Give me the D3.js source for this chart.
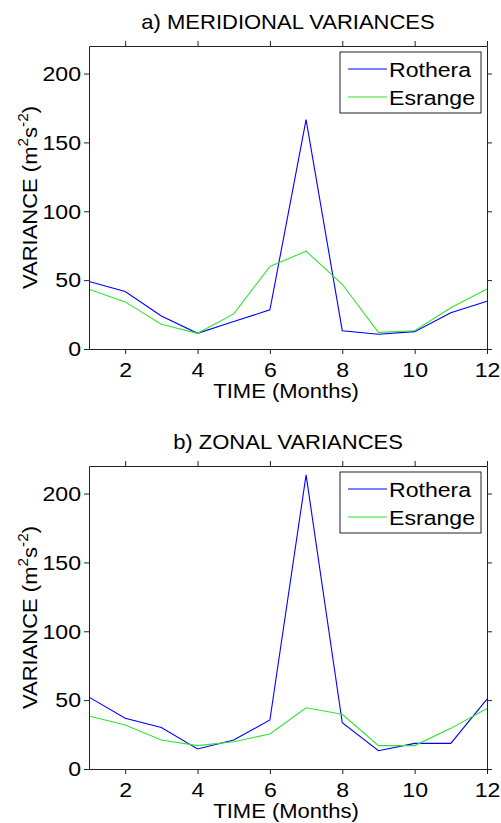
<!DOCTYPE html>
<html>
<head>
<meta charset="utf-8">
<script src="https://cdn.jsdelivr.net/npm/d3@7/dist/d3.min.js"></script>
<style>
  html, body { margin: 0; padding: 0; background: #fff; }
  svg { display: block; }
  text { font-family: "Liberation Sans", Arial, sans-serif; fill: #000; }
</style>
</head>
<body>
<svg id="chart" width="501" height="823"></svg>
<script>
// ---- data ----
const months = [1, 2, 3, 4, 5, 6, 7, 8, 9, 10, 11, 12];
const meridionalRothera = [49, 41.7, 24, 11.4, 20, 28.4, 166.5, 13.3, 10.7, 12.6, 26.4, 34.7];
const meridionalEsrange = [43.4, 34.2, 18, 11.4, 25.5, 59.9, 71, 47, 12.1, 13.3, 30, 43.6];
const zonalRothera = [52.2, 36.8, 30.2, 14.5, 21, 35.6, 213.5, 33.6, 13.3, 18.6, 18.6, 50.8];
const zonalEsrange = [38.5, 31.9, 21, 17, 19.8, 25.4, 44.5, 39.7, 17, 17, 29.5, 44];
const seriesNames = ["Rothera", "Esrange"];
const panelTitles = ["a) MERIDIONAL VARIANCES", "b) ZONAL VARIANCES"];
const xTicks = [2, 4, 6, 8, 10, 12];
const yTicks = [0, 50, 100, 150, 200];
const xDomain = [1, 12];
const yDomain = [0, 220];

const colors = ["#0000ff", "#2fe62f"];

const svg = d3.select("#chart");
const left = 89, right = 487;
const sx = 1.1; // horizontal stretch of the reference's text

const panels = [
  { top: 46, bottom: 349, title: panelTitles[0], data: [meridionalRothera, meridionalEsrange] },
  { top: 466, bottom: 769, title: panelTitles[1], data: [zonalRothera, zonalEsrange] }
];

const fs = 21;

panels.forEach(p => {
  const x = d3.scaleLinear().domain(xDomain).range([left, right]);
  const y = d3.scaleLinear().domain(yDomain).range([p.bottom, p.top]);
  const g = svg.append("g");

  // lines
  p.data.forEach((vals, i) => {
    const line = d3.line().x((d, j) => x(months[j])).y(d => y(d));
    g.append("path")
      .datum(vals)
      .attr("d", line)
      .attr("fill", "none")
      .attr("stroke", colors[i])
      .attr("stroke-width", 1.1)
      .attr("stroke-linejoin", "miter");
  });

  const ax = (axisFn, scale, ticks) => axisFn(scale).tickValues(ticks).tickSizeInner(5).tickSizeOuter(0);

  const bottomAx = g.append("g").attr("transform", `translate(0,${p.bottom})`)
    .call(ax(d3.axisBottom, x, xTicks).tickPadding(3).tickFormat(d3.format("d")));
  bottomAx.selectAll("text").attr("dy", null).attr("y", 0)
    .attr("transform", `translate(0,28) scale(${sx},1)`)
    .style("font-size", fs + "px");

  g.append("g").attr("transform", `translate(0,${p.top})`)
    .call(ax(d3.axisTop, x, xTicks).tickFormat(""));

  const leftAx = g.append("g").attr("transform", `translate(${left},0)`)
    .call(ax(d3.axisLeft, y, yTicks).tickPadding(3).tickFormat(d3.format("d")));
  leftAx.selectAll("text").attr("x", 0)
    .attr("transform", `translate(-8,0) scale(${sx},1)`)
    .style("font-size", fs + "px");

  g.append("g").attr("transform", `translate(${right},0)`)
    .call(ax(d3.axisRight, y, yTicks).tickFormat(""));

  g.selectAll(".domain").attr("stroke", "#222").attr("stroke-width", 1);
  g.selectAll(".tick line").attr("stroke", "#222").attr("stroke-width", 1);
  g.selectAll(".tick text").attr("fill", "#000").style("font-family", '"Liberation Sans", Arial, sans-serif');

  // title
  g.append("text")
    .attr("transform", `translate(${(left + right) / 2},${p.top - 17}) scale(${sx},1)`)
    .attr("text-anchor", "middle")
    .style("font-size", "20px")
    .text(p.title);

  // x label
  g.append("text")
    .attr("transform", `translate(${(left + right) / 2 - 2},${p.bottom + 49}) scale(${sx},1)`)
    .attr("text-anchor", "middle")
    .style("font-size", "20px")
    .text("TIME (Months)");

  // y label
  const yl = g.append("text")
    .attr("transform", `translate(37,${(p.top + p.bottom) / 2}) rotate(-90) scale(${sx},1)`)
    .attr("text-anchor", "middle")
    .style("font-size", "20px");
  yl.append("tspan").text("VARIANCE (m");
  yl.append("tspan").attr("dy", -9).style("font-size", "14px").text("2");
  yl.append("tspan").attr("dy", 9).text("s");
  yl.append("tspan").attr("dy", -9).style("font-size", "14px").text("-2");
  yl.append("tspan").attr("dy", 9).text(")");

  // legend
  const lg = g.append("g").attr("transform", `translate(340,${p.top + 6})`);
  lg.append("rect")
    .attr("x", 0).attr("y", 0).attr("width", 141).attr("height", 61)
    .attr("fill", "#fff").attr("stroke", "#222").attr("stroke-width", 1);
  seriesNames.forEach((name, i) => {
    const cy = 17 + i * 28;
    lg.append("line")
      .attr("x1", 8).attr("x2", 47)
      .attr("y1", cy).attr("y2", cy)
      .attr("stroke", colors[i]).attr("stroke-width", 1.1);
    lg.append("text")
      .attr("transform", `translate(49,${cy + 8}) scale(${sx},1)`)
      .style("font-size", "21px")
      .text(name);
  });
});
</script>
</body>
</html>
